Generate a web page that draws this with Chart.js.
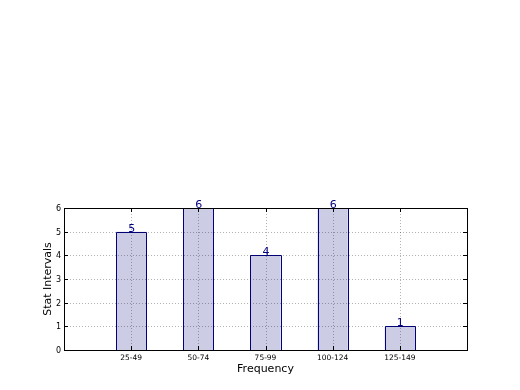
<!DOCTYPE html>
<html>
<head>
<meta charset="utf-8">
<script src="https://cdn.jsdelivr.net/npm/chart.js@4/dist/chart.umd.min.js"></script>
<style>
  html, body { margin: 0; padding: 0; background: #fff; }
  canvas { display: block; }
</style>
</head>
<body>
<canvas id="c" width="520" height="390"></canvas>
<script>
// dados
const categorias = ['25-49', '50-74', '75-99', '100-124', '125-149'];
const valores = [5, 6, 4, 6, 1];
const yTicks = [0, 1, 2, 3, 4, 5, 6];

// eixo x vai de 0 a 6: uma posição vazia em cada ponta
const labels = ['', ...categorias, ''];
const data = [null, ...valores, null];

const FONT = 'DejaVu Sans';
const NAVY = '#000080';

const crisp = v => Math.round(v) + 0.5;

// contorno das barras, grade pontilhada por cima, moldura, ticks internos e valores
const overlayPlugin = {
  id: 'overlay',
  afterDatasetsDraw(chart) {
    const { ctx, chartArea: a, scales: { x, y } } = chart;
    const meta = chart.getDatasetMeta(0);
    ctx.save();

    // contorno das barras
    ctx.strokeStyle = NAVY;
    ctx.lineWidth = 1;
    meta.data.forEach((bar, i) => {
      if (data[i] == null) return;
      const { x: bx, y: by, base, width } = bar.getProps(['x', 'y', 'base', 'width'], true);
      const l = crisp(bx - width / 2), r = crisp(bx + width / 2);
      const t = crisp(by), b = crisp(base);
      ctx.beginPath();
      ctx.moveTo(l, b); ctx.lineTo(l, t); ctx.lineTo(r, t); ctx.lineTo(r, b);
      ctx.stroke();
    });

    // grade
    ctx.strokeStyle = 'rgba(0,0,0,0.3)';
    ctx.setLineDash([1, 2]);
    ctx.beginPath();
    for (let i = 1; i < labels.length - 1; i++) {
      const px = crisp(x.getPixelForValue(i));
      ctx.moveTo(px, a.top); ctx.lineTo(px, a.bottom);
    }
    for (const v of yTicks.slice(1, -1)) {
      const py = crisp(y.getPixelForValue(v));
      ctx.moveTo(a.left, py); ctx.lineTo(a.right, py);
    }
    ctx.stroke();
    ctx.setLineDash([]);

    // ticks internos
    ctx.strokeStyle = '#000';
    ctx.beginPath();
    for (let i = 1; i < labels.length - 1; i++) {
      const px = crisp(x.getPixelForValue(i));
      ctx.moveTo(px, a.bottom); ctx.lineTo(px, a.bottom - 4);
      ctx.moveTo(px, a.top); ctx.lineTo(px, a.top + 4);
    }
    for (const v of yTicks) {
      const py = crisp(y.getPixelForValue(v));
      ctx.moveTo(a.left, py); ctx.lineTo(a.left + 4, py);
      ctx.moveTo(a.right, py); ctx.lineTo(a.right - 4, py);
    }
    ctx.stroke();

    // moldura
    ctx.strokeRect(crisp(a.left), crisp(a.top),
                   Math.round(a.right - a.left), Math.round(a.bottom - a.top));

    // valores
    ctx.fillStyle = NAVY;
    ctx.font = `11px "${FONT}"`;
    ctx.textAlign = 'center';
    ctx.textBaseline = 'alphabetic';
    meta.data.forEach((bar, i) => {
      const v = data[i];
      if (v == null) return;
      ctx.fillText(String(v), bar.x + 0.5, bar.y);
    });
    ctx.restore();
  }
};

new Chart(document.getElementById('c'), {
  type: 'bar',
  data: {
    labels,
    datasets: [{
      data,
      backgroundColor: 'rgb(204,204,229)',
      borderWidth: 0,
      barPercentage: 0.45,
      categoryPercentage: 1
    }]
  },
  options: {
    responsive: false,
    animation: false,
    layout: { padding: { top: 208, right: 53, left: 0, bottom: 0 } },
    plugins: { legend: { display: false }, tooltip: { enabled: false } },
    scales: {
      x: {
        offset: false,
        grid: { display: false, offset: false, drawTicks: false },
        border: { display: false },
        ticks: { padding: 4, color: '#000', font: { family: FONT, size: 7.5 }, maxRotation: 0, autoSkip: false },
        title: { display: true, text: 'Frequency', color: '#000', font: { family: FONT, size: 11 }, padding: { top: 4, bottom: 14 } },
        afterFit(s) { s.height = 40; }
      },
      y: {
        min: 0, max: 6,
        grid: { display: false, drawTicks: false },
        border: { display: false },
        ticks: { stepSize: 1, padding: 3, labelOffset: 1, color: '#000', font: { family: FONT, size: 8 } },
        title: { display: true, text: 'Stat Intervals', color: '#000', font: { family: FONT, size: 11 }, padding: { top: 42, bottom: 0 } },
        afterFit(s) { s.width = 64; }
      }
    }
  },
  plugins: [overlayPlugin]
});
</script>
</body>
</html>
